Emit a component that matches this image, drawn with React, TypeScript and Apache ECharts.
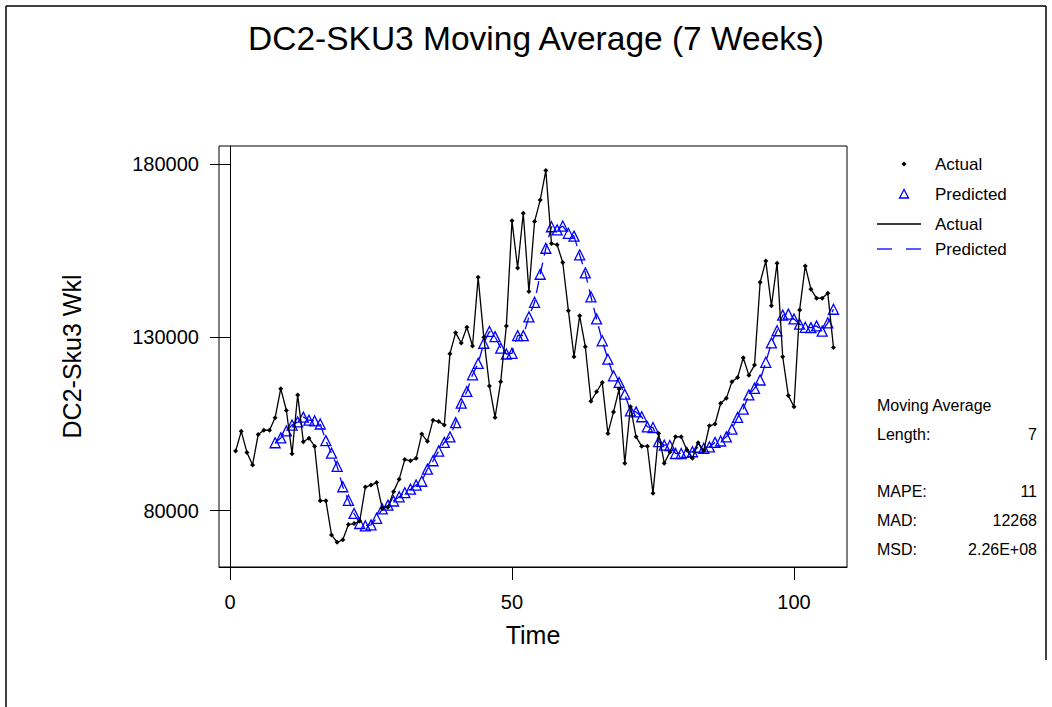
import React, { useEffect, useRef } from "react";
import * as echarts from "echarts";

const TITLE = "DC2-SKU3 Moving Average (7 Weeks)";
const X_NAME = "Time";
const Y_NAME = "DC2-Sku3 Wkl";
const X_TICKS = [0, 50, 100];
const Y_TICKS = [80000, 130000, 180000];
const MA_LENGTH = 7;

// Actual weekly values, weeks 1..107
const actual = [
  97200, 102900, 96800, 93200, 102000, 103200, 103200, 106800, 115200, 108900,
  96400, 113400, 99900, 100900, 98600, 82900, 82900, 73000, 70900, 71600,
  76000, 76300, 77000, 86800, 87400, 88100, 80700, 81000, 85500, 89100,
  94800, 94400, 95100, 102100, 100000, 106100, 105700, 104700, 125300, 131300,
  128400, 132900, 127500, 147300, 130000, 116000, 106900, 117200, 133300, 163600,
  150000, 165800, 143200, 163400, 169600, 178100, 157100, 156700, 151600, 137700,
  124400, 136200, 127300, 111600, 114300, 117000, 102300, 108500, 115100, 93700,
  110000, 101300, 98600, 98600, 85000, 102300, 93700, 96900, 101300, 101300,
  97500, 95100, 99600, 97300, 104500, 105000, 111000, 112400, 117200, 118400,
  124100, 119100, 122000, 145900, 152000, 139100, 151400, 124400, 113200, 110000,
  137900, 150600, 143900, 141300, 141300, 142700, 127100,
];

// Predicted (moving average) values, weeks 8..107
const predicted = [
  99600, 101000, 103000, 104700, 105600, 107000, 106100, 105900, 105000, 100200,
  96600, 92800, 86900, 83000, 79200, 76300, 75650, 75900, 77800, 80500,
  81600, 82800, 84000, 85200, 86200, 87400, 88500, 92000, 94400, 97200,
  99700, 101300, 105400, 111000, 114400, 119200, 122500, 128300, 131700, 130200,
  126900, 125200, 125400, 130500, 130500, 135900, 140100, 148200, 155700, 161900,
  161000, 162100, 160000, 159200, 153800, 148600, 141700, 135300, 129000, 123700,
  118900, 117000, 113600, 108800, 108500, 107100, 104200, 104000, 99900, 98900,
  98800, 96500, 96500, 96800, 97000, 98300, 98000, 98400, 99700, 100100,
  101300, 103500, 106900, 109300, 113400, 115300, 117700, 122800, 128400, 131900,
  136400, 136700, 135300, 133800, 132900, 132800, 133300, 131800, 134200, 138100,
];

const statLabels = ["MAPE:", "MAD:", "MSD:"];
const statValues = ["11", "12268", "2.26E+08"];

const FONT = "'Liberation Sans', Arial, sans-serif";
const BLUE = "#0000ff";

export default function App() {
  const ref = useRef<HTMLDivElement>(null);

  useEffect(() => {
    if (!ref.current) return;
    const chart = echarts.init(ref.current, null, { renderer: "svg" });

    const actualData = actual.map((v, i) => [i + 1, v]);
    const predData = predicted.map((v, i) => [i + 1 + MA_LENGTH, v]);

    const legendTextStyle = { fontFamily: FONT, fontSize: 17, fill: "#000", verticalAlign: "middle" as const };
    const statStyle = { fontFamily: FONT, fontSize: 16, fill: "#000", verticalAlign: "middle" as const };

    const graphics: any[] = [
      // outer frame
      { type: "line", shape: { x1: 6, y1: 6, x2: 6, y2: 707 }, style: { stroke: "#000", lineWidth: 1.5 } },
      { type: "line", shape: { x1: 6, y1: 6, x2: 1046, y2: 6 }, style: { stroke: "#000", lineWidth: 1.5 } },
      { type: "line", shape: { x1: 1046, y1: 6, x2: 1046, y2: 660 }, style: { stroke: "#000", lineWidth: 1.5 } },
      // title
      {
        type: "text", x: 536, y: 38,
        style: { text: TITLE, fontFamily: FONT, fontSize: 33.5, fill: "#000", align: "center", verticalAlign: "middle" },
      },
      // legend
      { type: "polygon", shape: { points: [[904, 161.5], [906.5, 164], [904, 166.5], [901.5, 164]] }, style: { fill: "#000" } },
      { type: "text", x: 935, y: 164, style: { ...legendTextStyle, text: "Actual" } },
      { type: "polygon", shape: { points: [[904, 189.5], [899.5, 198], [908.5, 198]] }, style: { fill: "none", stroke: BLUE, lineWidth: 1.3 } },
      { type: "text", x: 935, y: 194, style: { ...legendTextStyle, text: "Predicted" } },
      { type: "line", shape: { x1: 877, y1: 224, x2: 921, y2: 224 }, style: { stroke: "#000", lineWidth: 1.3 } },
      { type: "text", x: 935, y: 224, style: { ...legendTextStyle, text: "Actual" } },
      { type: "line", shape: { x1: 877, y1: 249, x2: 892, y2: 249 }, style: { stroke: BLUE, lineWidth: 1.3 } },
      { type: "line", shape: { x1: 906, y1: 249, x2: 921, y2: 249 }, style: { stroke: BLUE, lineWidth: 1.3 } },
      { type: "text", x: 935, y: 249, style: { ...legendTextStyle, text: "Predicted" } },
      // stats
      { type: "text", x: 877, y: 405, style: { ...statStyle, text: "Moving Average" } },
      { type: "text", x: 877, y: 434, style: { ...statStyle, text: "Length:" } },
      { type: "text", x: 1037, y: 434, style: { ...statStyle, text: String(MA_LENGTH), align: "right" } },
    ];
    statLabels.forEach((lab, i) => {
      const y = 491 + i * 29;
      graphics.push({ type: "text", x: 877, y, style: { ...statStyle, text: lab } });
      graphics.push({ type: "text", x: 1037, y, style: { ...statStyle, text: statValues[i], align: "right" } });
    });

    chart.setOption({
      animation: false,
      backgroundColor: "#fff",
      textStyle: { fontFamily: FONT },
      grid: {
        left: 219, top: 146, width: 628, height: 421,
        show: true, borderColor: "#000", borderWidth: 1, backgroundColor: "transparent",
        containLabel: false, outerBoundsMode: "none",
      },
      xAxis: {
        type: "value",
        min: -1.95, max: 109.4,
        name: X_NAME, nameLocation: "middle", nameGap: 55,
        nameTextStyle: { fontFamily: FONT, fontSize: 25, color: "#000" },
        axisLine: { show: true, lineStyle: { color: "#000", width: 1 } },
        axisTick: { show: true, inside: false, length: 13, customValues: X_TICKS, lineStyle: { color: "#000", width: 1 } },
        axisLabel: { show: true, customValues: X_TICKS, margin: 25, fontSize: 20, color: "#000", fontFamily: FONT },
        splitLine: { show: false },
      },
      yAxis: {
        type: "value",
        min: 63760, max: 185190,
        name: Y_NAME, nameLocation: "middle", nameGap: 135,
        nameTextStyle: { fontFamily: FONT, fontSize: 25, color: "#000" },
        axisLine: { show: true, lineStyle: { color: "#000", width: 1 } },
        axisTick: { show: true, inside: false, length: 20, customValues: Y_TICKS, lineStyle: { color: "#000", width: 1 } },
        axisLabel: {
          show: true, customValues: Y_TICKS, margin: 20, fontSize: 20, color: "#000", fontFamily: FONT,
          formatter: (v: number) => String(v),
        },
        splitLine: { show: false },
      },
      series: [
        {
          name: "Actual", type: "line", data: actualData,
          symbol: "diamond", symbolSize: 5, showAllSymbol: true,
          lineStyle: { color: "#000", width: 1.3 },
          itemStyle: { color: "#000" },
          z: 3,
        },
        {
          name: "Predicted", type: "line", data: predData,
          symbol: "triangle", symbolSize: 10, showAllSymbol: true,
          lineStyle: { color: BLUE, width: 1.3, type: [12, 7] },
          itemStyle: { color: "rgba(255,255,255,0)", borderColor: BLUE, borderWidth: 1.3 },
          z: 2,
        },
      ],
      graphic: graphics,
    });

    return () => chart.dispose();
  }, []);

  return (
    <div
      ref={ref}
      style={{ position: "absolute", left: 0, top: 0, width: 1052, height: 707, background: "#fff" }}
    />
  );
}
